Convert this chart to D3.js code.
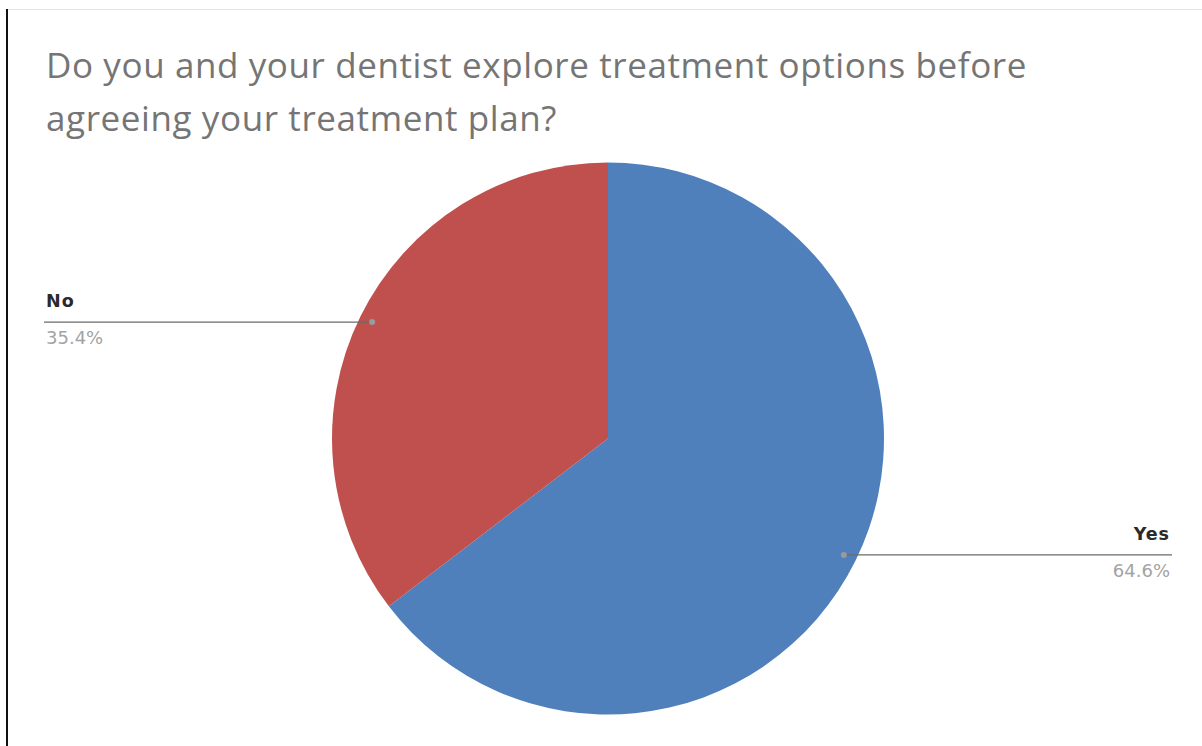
<!DOCTYPE html>
<html>
<head>
<meta charset="utf-8">
<script src="https://cdn.jsdelivr.net/npm/d3@7"></script>
<style>
  html, body { margin: 0; padding: 0; background: #fff; }
  svg { display: block; }
</style>
</head>
<body>
<script>
const titleLines = ["Do you and your dentist explore treatment options before", "agreeing your treatment plan?"];
const categories = ["Yes", "No"];
const values = [64.6, 35.4];
const colors = ["#4F80BC", "#BF504D"];
const labelTexts = ["64.6%", "35.4%"];

const W = 1202, H = 746;
const svg = d3.select("body").append("svg").attr("width", W).attr("height", H);

// frame
svg.append("line").attr("x1", 8).attr("x2", W).attr("y1", 9.5).attr("y2", 9.5)
  .attr("stroke", "#e3e3e3").attr("stroke-width", 1);
svg.append("line").attr("x1", 7).attr("x2", 7).attr("y1", 9).attr("y2", H)
  .attr("stroke", "#111").attr("stroke-width", 2);

// title
svg.append("g").selectAll("text").data(titleLines).join("text")
  .attr("x", 46).attr("y", (d, i) => 78 + i * 53)
  .attr("font-family", "'Open Sans', sans-serif")
  .attr("font-size", 35)
  .attr("letter-spacing", 0.6)
  .attr("fill", "#757575")
  .text(d => d);

const cx = 608, cy = 438.5, r = 276;
const data = categories.map((c, i) => ({ cat: c, value: values[i], color: colors[i], label: labelTexts[i] }));
const pie = d3.pie().value(d => d.value).sort(null);
const arcs = pie(data);
const arc = d3.arc().innerRadius(0).outerRadius(r);

const g = svg.append("g").attr("transform", `translate(${cx},${cy})`);
g.selectAll("path").data(arcs).join("path")
  .attr("d", arc).attr("fill", d => d.data.color);

// leader lines
const anchorArc = d3.arc().innerRadius(r * 0.953).outerRadius(r * 0.953);
arcs.forEach(a => {
  const [px, py] = anchorArc.centroid(a);
  const ax = cx + px, ay = cy + py;
  const right = px > 0;
  const endX = right ? 1172 : 44;
  svg.append("line").attr("x1", ax).attr("x2", endX).attr("y1", ay).attr("y2", ay)
    .attr("stroke", "#6b6b6b").attr("stroke-width", 1.3);
  svg.append("circle").attr("cx", ax).attr("cy", ay).attr("r", 3).attr("fill", "#9a9a9a");
  svg.append("text").attr("x", right ? 1170 : 46).attr("y", ay - 15)
    .attr("text-anchor", right ? "end" : "start")
    .attr("font-family", "'DejaVu Sans', sans-serif").attr("font-weight", "bold")
    .attr("font-size", 17.5).attr("letter-spacing", 1).attr("fill", "#2a2a2a")
    .text(a.data.cat);
  svg.append("text").attr("x", right ? 1170 : 46).attr("y", ay + 22)
    .attr("text-anchor", right ? "end" : "start")
    .attr("font-family", "'DejaVu Sans', sans-serif")
    .attr("font-size", 18).attr("fill", "#a3a3a3")
    .text(a.data.label);
});
</script>
</body>
</html>
